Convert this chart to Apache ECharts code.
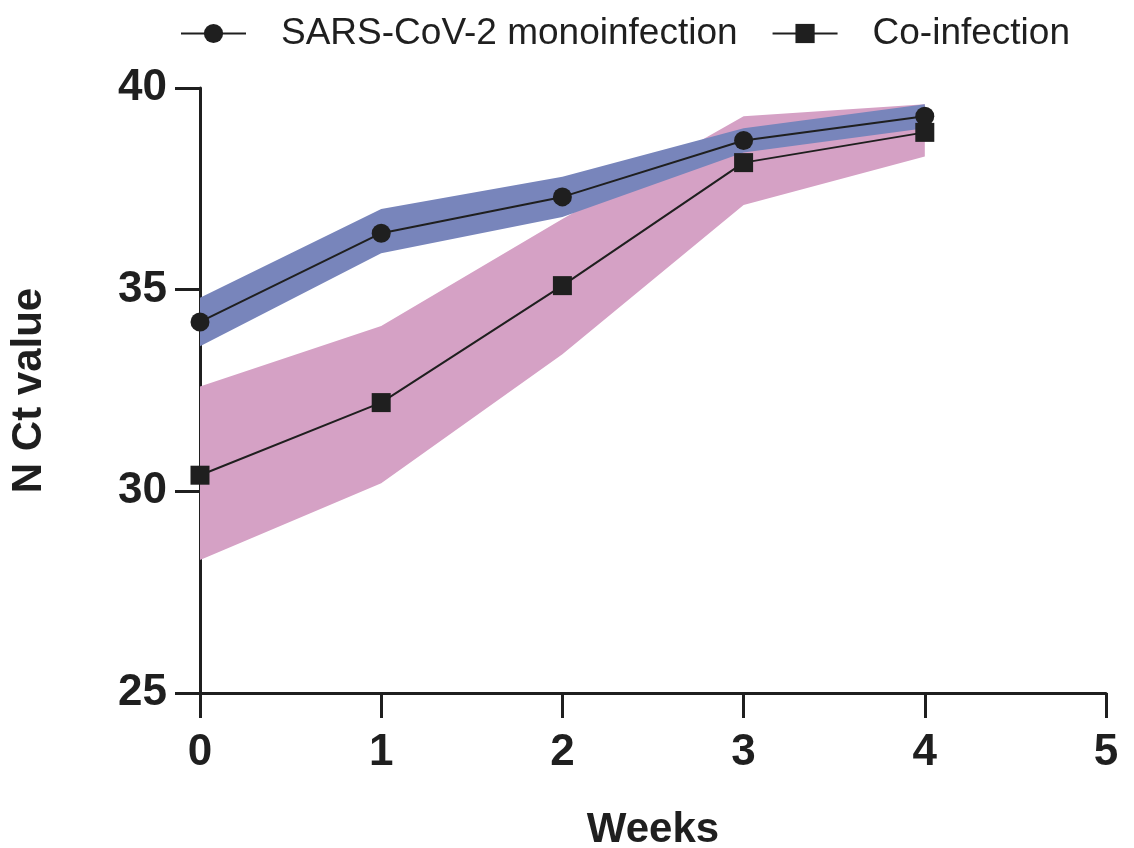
<!DOCTYPE html>
<html>
<head>
<meta charset="utf-8">
<script src="https://cdn.jsdelivr.net/npm/echarts@6/dist/echarts.min.js"></script>
<style>
  html, body { margin: 0; padding: 0; background: #fff; }
  #chart { width: 1134px; height: 848px; }
</style>
</head>
<body>
<div id="chart"></div>
<script>
var weeks = ['0', '1', '2', '3', '4', '5']

// SARS-CoV-2 monoinfection
var monoMean = [34.2, 36.4, 37.3, 38.7, 39.3]
var monoLow  = [33.6, 35.9, 36.8, 38.4, 39.0]
var monoHigh = [34.8, 37.0, 37.8, 39.0, 39.6]

// Co-infection
var coMean = [30.4, 32.2, 35.1, 38.15, 38.9]
var coLow  = [28.3, 30.2, 33.4, 37.1, 38.3]
var coHigh = [32.6, 34.1, 36.75, 39.3, 39.6]

var yTicks = [25, 30, 35, 40]

function spread(lo, hi){
    return hi.map(function(v, i){ return +(v - lo[i]).toFixed(3) })
}

function bandSeries(id, lo, hi, color){
    return [
        {
            name: id + '-lo', type: 'line', stack: id, data: lo,
            symbol: 'none', silent: true,
            lineStyle: { opacity: 0 }
        },
        {
            name: id + '-hi', type: 'line', stack: id, data: spread(lo, hi),
            symbol: 'none', silent: true,
            lineStyle: { opacity: 0 },
            areaStyle: { color: color, opacity: 1 }
        }
    ]
}

var chart = echarts.init(document.getElementById('chart'))
var font = 'Arial, "Liberation Sans", Helvetica, sans-serif'
var ink = '#1f1f1f'

var option = {
    animation: false,
    textStyle: { fontFamily: font },
    legend: {
        data: ['SARS-CoV-2 monoinfection', 'Co-infection'],
        top: 10,
        left: 175,
        itemWidth: 65,
        itemHeight: 24,
        itemGap: 34,
        textStyle: { fontSize: 37, color: ink, fontFamily: font, padding: [0, 0, 0, 30] }
    },
    grid: { left: 200, right: 28, top: 88, bottom: 155, containLabel: false, outerBoundsMode: 'none' },
    xAxis: {
        type: 'category',
        data: weeks,
        boundaryGap: false,
        name: 'Weeks',
        nameLocation: 'middle',
        nameGap: 116,
        nameTextStyle: { fontSize: 42, fontWeight: 'bold', color: ink, fontFamily: font },
        axisLine: { lineStyle: { color: ink, width: 3 } },
        axisTick: { show: true, length: 25, lineStyle: { color: ink, width: 3 }, alignWithLabel: true },
        axisLabel: { fontSize: 44, fontWeight: 'bold', color: ink, margin: 38, fontFamily: font },
        splitLine: { show: false }
    },
    yAxis: {
        type: 'value',
        min: yTicks[0],
        max: yTicks[yTicks.length - 1],
        interval: 5,
        name: 'N Ct value',
        nameLocation: 'middle',
        nameGap: 150,
        nameTextStyle: { fontSize: 42, fontWeight: 'bold', color: ink, fontFamily: font },
        axisLine: { show: true, lineStyle: { color: ink, width: 3 } },
        axisTick: { show: true, length: 25, lineStyle: { color: ink, width: 3 } },
        axisLabel: { fontSize: 44, fontWeight: 'bold', color: ink, margin: 33, fontFamily: font },
        splitLine: { show: false }
    },
    series: []
        .concat(bandSeries('co', coLow, coHigh, '#d5a1c5'))
        .concat(bandSeries('mono', monoLow, monoHigh, '#7885bb'))
        .concat([
            {
                name: 'SARS-CoV-2 monoinfection', type: 'line', data: monoMean,
                symbol: 'circle', symbolSize: 19,
                itemStyle: { color: ink },
                lineStyle: { color: ink, width: 2 },
                z: 5
            },
            {
                name: 'Co-infection', type: 'line', data: coMean,
                symbol: 'rect', symbolSize: 19,
                itemStyle: { color: ink },
                lineStyle: { color: ink, width: 2 },
                z: 5
            }
        ])
}

chart.setOption(option)
</script>
</body>
</html>
